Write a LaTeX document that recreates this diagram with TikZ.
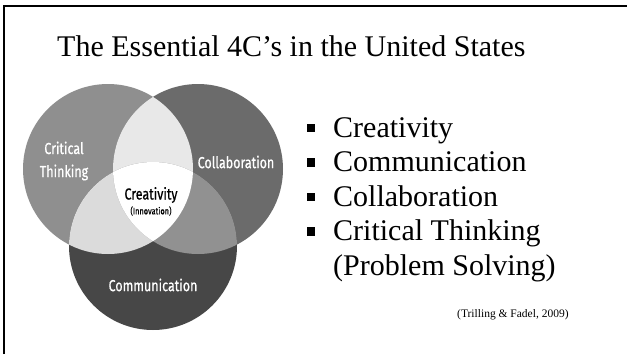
\documentclass[tikz,border=0pt]{standalone}
\usepackage{fontspec}
\setmainfont{Liberation Serif}
\newfontfamily\vennfont[FakeStretch=0.78,FakeBold=0.6]{Fira Sans}
\usetikzlibrary{positioning}
\definecolor{thinkclr}{gray}{0.56}
\definecolor{collabclr}{gray}{0.42}
\definecolor{commclr}{gray}{0.28}
\definecolor{tcclr}{gray}{0.91}
\definecolor{tmclr}{gray}{0.86}
\definecolor{cmclr}{gray}{0.57}
\tikzset{ %
  ,every node/.style={inner sep=0}
  ,title/.style={anchor=base west, font=\fontsize{30}{30}\selectfont}
  ,item/.style={anchor=base west, font=\fontsize{30}{30}\selectfont}
  ,bullet/.style={fill, rectangle, minimum size=8.5pt}
  ,lbl/.style={align=center, text=white, font=\vennfont\fontsize{16}{23}\selectfont}
  ,cite/.style={anchor=base west, font=\fontsize{11.5}{11.5}\selectfont}
}
\begin{document}
\begin{tikzpicture}[x=1pt, y=-1pt]
  \useasboundingbox (0,0) rectangle (627,354);
  \draw[line width=2.5pt] (4,354) -- (4,6) -- (627,6);
  \node[title] (head) at (57,56) {The Essential 4C’s in the United States};
  % the three circles
  \coordinate (think) at (108,169);
  \coordinate (collab) at (198,169);
  \coordinate (comm) at (153,246);
  \fill[thinkclr] (think) circle[radius=85pt];
  \fill[collabclr] (collab) circle[radius=85pt];
  \fill[commclr] (comm) circle[radius=84pt];
  % overlaps
  \begin{scope}
    \clip (think) circle[radius=85pt];
    \fill[tcclr] (collab) circle[radius=85pt];
    \fill[tmclr] (comm) circle[radius=84pt];
  \end{scope}
  \begin{scope}
    \clip (collab) circle[radius=85pt];
    \fill[cmclr] (comm) circle[radius=84pt];
  \end{scope}
  \begin{scope}
    \clip (think) circle[radius=85pt];
    \clip (collab) circle[radius=85pt];
    \fill[white] (comm) circle[radius=84pt];
  \end{scope}
  \node[lbl] (tlbl) at (64,161) {Critical\\Thinking};
  \node[lbl] (clbl) at (236,162) {Collaboration};
  \node[lbl, text=black] (crlbl) at (151,195) {Creativity};
  \node[lbl, text=black, font=\vennfont\fontsize{9.5}{9.5}\selectfont, below=3pt of crlbl] (inlbl) {(Innovation)};
  \node[lbl] (mlbl) at (153,285) {Communication};
  % list
  \node[item] (crea) at (333,137) {Creativity};
  \node[item] (comu) at (333,171.5) {Communication};
  \node[item] (colb) at (333,206) {Collaboration};
  \node[item] (crit) at (333,240.5) {Critical Thinking};
  \node[item] (prob) at (333,275) {(Problem Solving)};
  \foreach \n in {crea,comu,colb,crit}
    \node[bullet] at ([xshift=-22pt,yshift=9pt]\n.base west) {};
  \node[cite] (src) at (457,317) {(Trilling \& Fadel, 2009)};
\end{tikzpicture}
\end{document}
